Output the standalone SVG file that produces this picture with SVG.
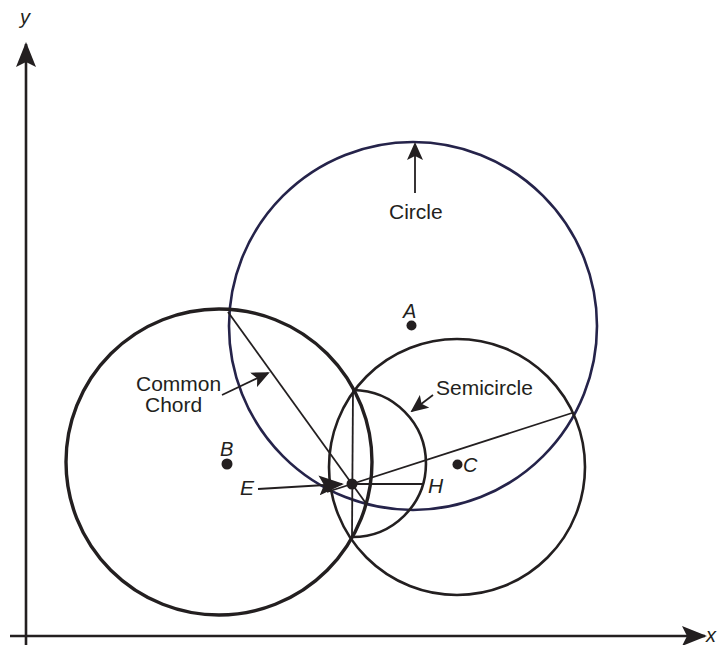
<svg xmlns="http://www.w3.org/2000/svg" width="721" height="645" viewBox="0 0 721 645">
<style>
.ln{fill:none;stroke:#231f20;stroke-width:1.8}
.circ{fill:none;stroke:#231f20;stroke-width:2.6}
.thick{fill:none;stroke:#231f20;stroke-width:3.4}
.navy{fill:none;stroke:#25234a;stroke-width:2.6}
.lbl{font-family:"Liberation Sans",Arial,sans-serif;font-size:21px;fill:#231f20}
.it{font-family:"Liberation Sans",Arial,sans-serif;font-size:21px;font-style:italic;fill:#231f20}
.dot{fill:#231f20}
</style>
<defs>
<marker id="big" markerUnits="userSpaceOnUse" viewBox="0 0 25 20" refX="23" refY="10" markerWidth="25" markerHeight="20" orient="auto">
<path d="M0,0 L25,10 L0,20 L5,10 z" fill="#231f20"/>
</marker>
<marker id="sm" markerUnits="userSpaceOnUse" viewBox="0 0 18 16" refX="16" refY="8" markerWidth="18" markerHeight="16" orient="auto">
<path d="M0,0 L18,8 L0,16 L4,8 z" fill="#231f20"/>
</marker>
</defs>
<g id="axes">
<line class="ln" x1="26" y1="645" x2="26" y2="44" style="stroke-width:2.6" marker-end="url(#big)"/>
<line class="ln" x1="10" y1="636" x2="705" y2="636" style="stroke-width:2.6" marker-end="url(#big)"/>
<text class="it" x="20" y="24" style="font-size:20px">y</text>
<text class="it" x="706" y="642" style="font-size:20px">x</text>
</g>
<g id="circle-A">
<circle class="navy" cx="413" cy="326" r="184"/>
<circle class="dot" cx="411.5" cy="325.5" r="5"/>
<text class="it" x="403" y="318" style="font-size:20px">A</text>
</g>
<g id="circle-B">
<circle class="thick" cx="219" cy="462" r="153"/>
<circle class="dot" cx="227" cy="464" r="5.5"/>
<text class="it" x="220" y="456" style="font-size:20px">B</text>
</g>
<g id="circle-C">
<circle class="circ" cx="457" cy="467" r="128"/>
<circle class="dot" cx="457.5" cy="464.5" r="5"/>
<text class="it" x="463" y="472" style="font-size:20px">C</text>
</g>
<g id="semicircle">
<path class="circ" d="M353,390 A73.5,73.5 0 0 1 352,537"/>
</g>
<g id="point-E">
<circle class="dot" cx="352" cy="484" r="5.5"/>
<text class="it" x="240" y="495">E</text>
</g>
<g id="point-H">
<text class="it" x="428" y="493">H</text>
</g>
<g id="connectors">
<line class="ln" x1="353" y1="390" x2="352" y2="537"/>
<line class="ln" x1="228" y1="312" x2="365" y2="502"/>
<line class="ln" x1="327" y1="492" x2="572" y2="413"/>
<line class="ln" x1="352" y1="484" x2="424" y2="484"/>
<line class="ln" x1="415" y1="193" x2="415" y2="144" marker-end="url(#sm)"/>
<line class="ln" x1="222" y1="395" x2="268" y2="373" marker-end="url(#sm)"/>
<line class="ln" x1="433" y1="395" x2="412" y2="411" marker-end="url(#sm)"/>
<line class="ln" x1="258" y1="489" x2="342" y2="484" marker-end="url(#big)"/>
</g>
<g id="labels">
<text class="lbl" x="389" y="219">Circle</text>
<text class="lbl" x="436" y="395">Semicircle</text>
<text class="lbl" x="136" y="391">Common</text>
<text class="lbl" x="145" y="412">Chord</text>
</g>
</svg>
